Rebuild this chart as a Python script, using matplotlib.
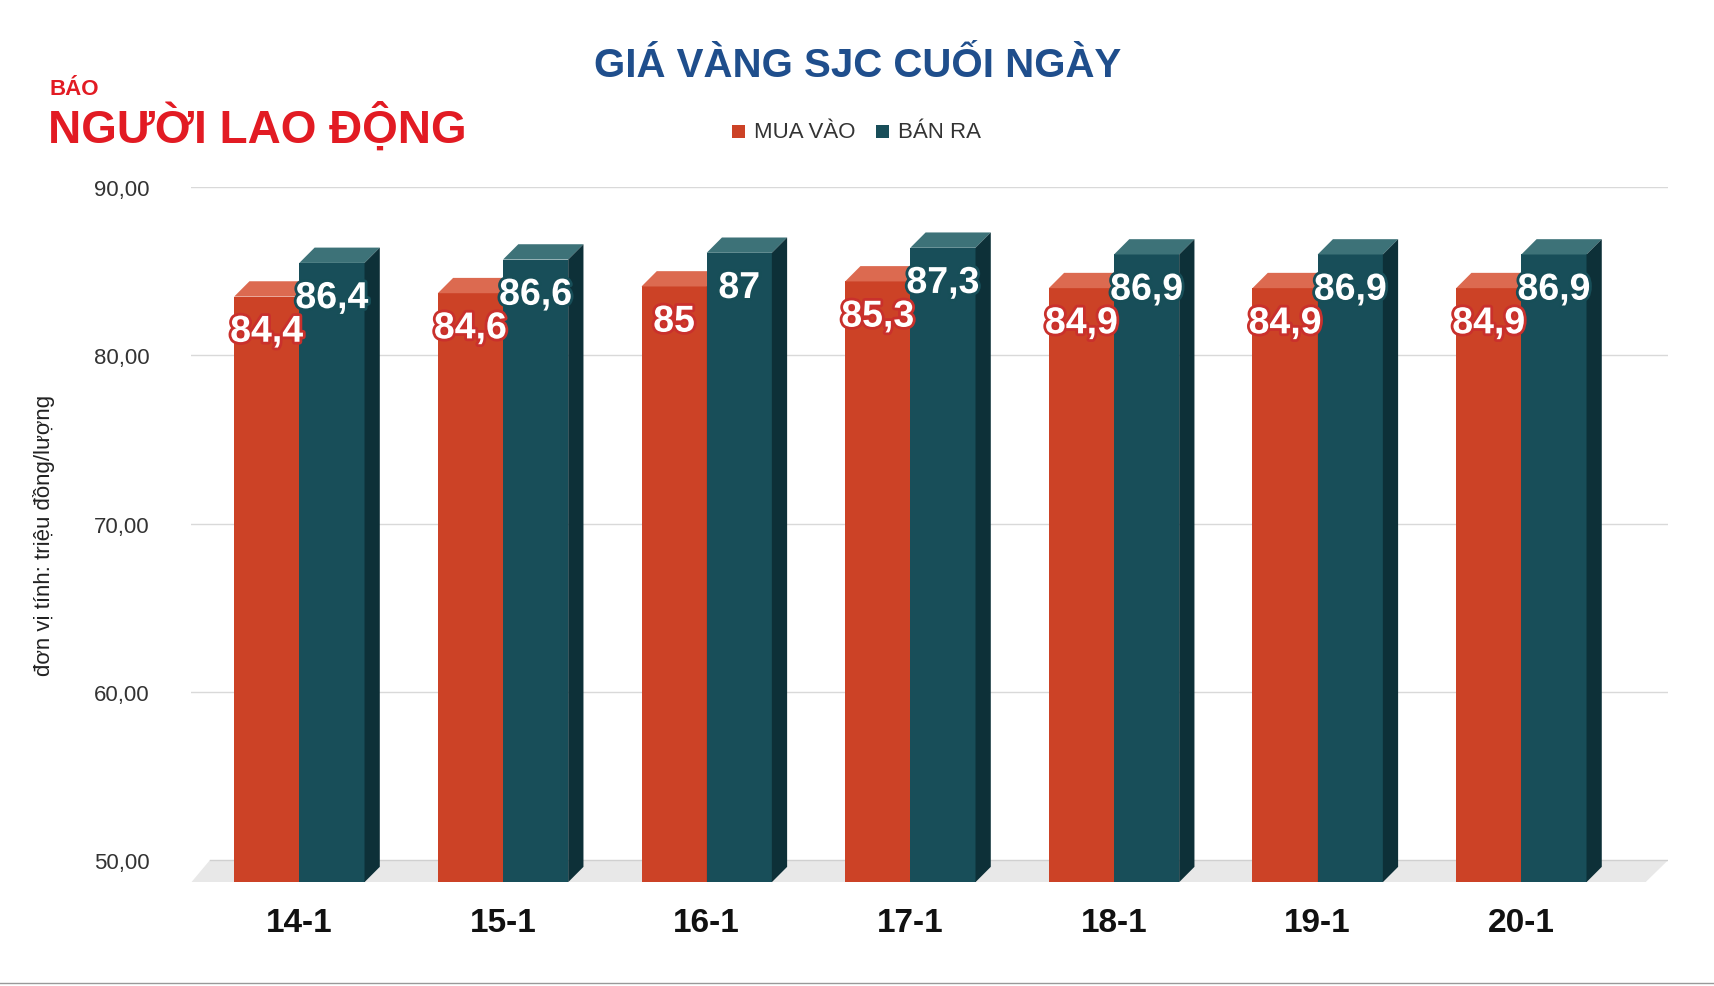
import matplotlib.pyplot as plt
import matplotlib.patheffects as pe
from matplotlib.patches import Polygon

plt.rcParams['font.family'] = ['Liberation Sans', 'DejaVu Sans']

days = ['14-1', '15-1', '16-1', '17-1', '18-1', '19-1', '20-1']
mua_vao = [84.4, 84.6, 85.0, 85.3, 84.9, 84.9, 84.9]
ban_ra = [86.4, 86.6, 87.0, 87.3, 86.9, 86.9, 86.9]
mua_lbl = ['84,4', '84,6', '85', '85,3', '84,9', '84,9', '84,9']
ban_lbl = ['86,4', '86,6', '87', '87,3', '86,9', '86,9', '86,9']

fig = plt.figure(figsize=(17.15, 9.87), dpi=100)
ax = fig.add_axes([175/1568, 1-808/903, 1350/1568, (808-172)/903])
ymin = 50 - 20/616*40
ax.set_xlim(-0.53, 6.72)
ax.set_ylim(ymin, 90)
for s in ax.spines.values():
    s.set_visible(False)

dx, dy = 0.075, 0.91
w = 0.32
ax.add_patch(Polygon([(-0.53 + 0.09, 50), (6.72, 50), (6.61, ymin), (-0.53, ymin)],
                     closed=True, fc='#e8e8e8', ec='none', zorder=1))
for g in [60, 70, 80, 90]:
    ax.axhline(g, color='#d9d9d9', lw=1, zorder=0)
ax.plot([-0.44, 6.72], [50, 50], color='#d0d0d0', lw=1, zorder=1)

def bar3d(x, v, front, top, side):
    h = v - dy
    ax.add_patch(Polygon([(x, ymin), (x + w, ymin), (x + w, h), (x, h)], fc=front, ec='none', zorder=3))
    ax.add_patch(Polygon([(x, h), (x + w, h), (x + w + dx, v), (x + dx, v)], fc=top, ec='none', zorder=3))
    ax.add_patch(Polygon([(x + w, ymin), (x + w + dx, ymin + dy), (x + w + dx, v), (x + w, h)], fc=side, ec='none', zorder=3))

stroke_r = [pe.withStroke(linewidth=4, foreground='#c9302c')]
stroke_t = [pe.withStroke(linewidth=4, foreground='#174e58')]
for i in range(len(days)):
    xo = i - w
    bar3d(xo, mua_vao[i], '#cc4226', '#dc6a50', '#a8331d')
    bar3d(i, ban_ra[i], '#184e59', '#3d7278', '#0d3038')
    ax.text(xo + w / 2, mua_vao[i] - 3.0, mua_lbl[i], ha='center', va='center', color='white',
            fontsize=27, fontweight='bold', path_effects=stroke_r, zorder=5)
    ax.text(i + w / 2, ban_ra[i] - 3.0, ban_lbl[i], ha='center', va='center', color='white',
            fontsize=27, fontweight='bold', path_effects=stroke_t, zorder=5)

ax.set_yticks([50, 60, 70, 80, 90])
ax.set_yticklabels(['50,00', '60,00', '70,00', '80,00', '90,00'], fontsize=16, color='#333333')
ax.tick_params(axis='y', length=0, pad=30)
ax.set_xticks(range(len(days)))
ax.set_xticklabels(days, fontsize=24, fontweight='bold', color='#111111')
ax.tick_params(axis='x', length=0, pad=18)
ax.set_ylabel('đơn vị tính: triệu đồng/lượng', fontsize=16, color='#222222', labelpad=28)

fig.text(0.5, 1 - 60/903, 'GIÁ VÀNG SJC CUỐI NGÀY', ha='center', va='center',
         fontsize=29, fontweight='bold', color='#1f4e8c')
for x0, col, lbl in [(669, '#cc4226', 'MUA VÀO'), (801, '#184e59', 'BÁN RA')]:
    fig.patches.append(Polygon([(x0/1568, 1-115/903), ((x0+12)/1568, 1-115/903),
                                ((x0+12)/1568, 1-127/903), (x0/1568, 1-127/903)],
                               closed=True, fc=col, transform=fig.transFigure, figure=fig))
    fig.text((x0+20)/1568, 1-121/903, lbl, va='center', fontsize=16, color='#333333')
# logo
fig.text(45/1568, 1-82/903, 'BÁO', va='center', fontsize=16, fontweight='bold', color='#e21b23')
fig.text(44/1568, 1-117/903, 'NGƯỜI LAO ĐỘNG', va='center', fontsize=33, fontweight='bold',
         color='#e21b23')
fig.add_artist(plt.Line2D([0, 1], [1-900/903, 1-900/903], color='#999999', lw=1))

fig.savefig('out.png', dpi=100, facecolor='white')
